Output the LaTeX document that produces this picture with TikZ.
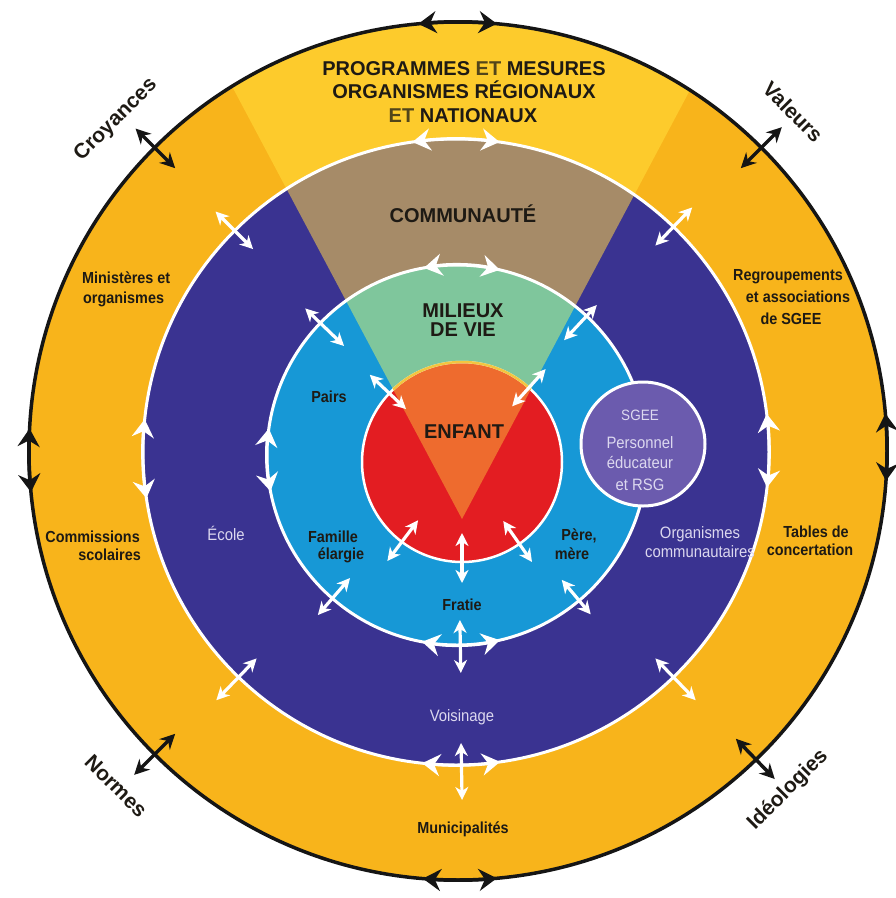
\documentclass[tikz,border=0pt]{standalone}
\usepackage{fontspec}
\setmainfont{Liberation Sans}
\newfontfamily\condf[FakeStretch=0.9]{Liberation Sans}
\usetikzlibrary{arrows.meta,calc}
\definecolor{yel}{HTML}{F8B41B}
\definecolor{lyel}{HTML}{FDCB2C}
\definecolor{purp}{HTML}{3A3391}
\definecolor{tanc}{HTML}{A68B68}
\definecolor{blu}{HTML}{1798D6}
\definecolor{grn}{HTML}{7FC69C}
\definecolor{redc}{HTML}{E31D22}
\definecolor{orng}{HTML}{EE6B2E}
\definecolor{edgey}{HTML}{F2C640}
\definecolor{sgee}{HTML}{6B5BAE}
\definecolor{txt}{HTML}{1E1A14}
\definecolor{olv}{HTML}{52451A}
\definecolor{lav}{HTML}{DCD8EF}
\definecolor{blk}{HTML}{151515}
\begin{document}
\begin{tikzpicture}[x=1pt,y=-1pt,
  wrad/.style={draw=white, line width=3.2pt, {Stealth[length=13pt,width=13pt,inset=4pt]}-{Stealth[length=13pt,width=13pt,inset=4pt]}},
  wtan/.style={draw=white, line width=3pt, {Stealth[length=18pt,width=22pt,inset=6pt]}-{Stealth[length=18pt,width=22pt,inset=6pt]}},
  brad/.style={draw=blk, line width=3.5pt, {Stealth[length=15pt,width=15pt,inset=5pt]}-{Stealth[length=15pt,width=15pt,inset=5pt]}},
  btan/.style={draw=blk, line width=3.5pt, {Stealth[length=18pt,width=22pt,inset=6pt]}-{Stealth[length=18pt,width=22pt,inset=6pt]}},
  lbl/.style={font=\condf\bfseries\fontsize{16}{18}\selectfont, text=txt, anchor=base, inner sep=0pt},
  wlbl/.style={font=\condf\fontsize{16.5}{18}\selectfont, text=lav, anchor=base, inner sep=0pt},
  big/.style={font=\bfseries\fontsize{20}{22}\selectfont, text=txt, anchor=base, inner sep=0pt},
  outerlbl/.style={font=\bfseries\fontsize{21}{23}\selectfont, text=txt, inner sep=0pt},
]
\useasboundingbox (0,0) rectangle (896,898);
\coordinate (O) at (458,451);
\coordinate (P) at (456,452);
\coordinate (B) at (457,455);
\coordinate (R) at (462,462);
\coordinate (A) at (462,519);
\coordinate (S) at (643,444);
\def\cone{(A) -- (133,-100) -- (791,-100) -- cycle}
% outer ring
\fill[yel] (O) circle[radius=429];
\begin{scope}
  \clip (O) circle[radius=429];
  \fill[lyel] \cone;
\end{scope}
\draw[blk, line width=3.5pt] (O) circle[radius=429];
% purple ring
\fill[purp] (P) circle[radius=313];
\begin{scope}
  \clip (P) circle[radius=313];
  \fill[tanc] \cone;
\end{scope}
\draw[white, line width=3pt] (P) circle[radius=313];
% blue ring
\fill[blu] (B) circle[radius=190];
\begin{scope}
  \clip (B) circle[radius=190];
  \fill[grn] \cone;
\end{scope}
\draw[white, line width=3pt] (B) circle[radius=190];
% red centre
\fill[redc] (R) circle[radius=100];
\begin{scope}
  \clip (R) circle[radius=100];
  \fill[orng] \cone;
\end{scope}
\draw[white, line width=2.5pt] (R) circle[radius=100];
\begin{scope}
  \clip \cone;
  \draw[edgey, line width=2.5pt] (R) circle[radius=100];
\end{scope}
% SGEE circle
\fill[sgee] (S) circle[radius=62];
\draw[white, line width=3pt] (S) circle[radius=62];

% black arrows on the outer circle
\draw[btan] ($(O)+(-95.3:429)$) arc[start angle=-95.3, end angle=-84.8, radius=429];
\draw[btan] ($(O)+(94.7:429)$) arc[start angle=94.7, end angle=84.8, radius=429];
\draw[btan] ($(O)+(-177:429)$) arc[start angle=-177, end angle=-185.5, radius=429];
\draw[btan] ($(O)+(-5:429)$) arc[start angle=-5, end angle=4, radius=429];
\draw[brad] ($(O)+(-135:400)$) -- ($(O)+(-135:456)$);
\draw[brad] ($(O)+(-45:400)$) -- ($(O)+(-45:458)$);
\draw[brad] ($(O)+(135:400)$) -- ($(O)+(135:458)$);
\draw[brad] ($(O)+(46:400)$) -- ($(O)+(46:456)$);

% white arrows on the purple circle
\draw[wtan] ($(P)+(-98:313)$) arc[start angle=-98, end angle=-82, radius=313];
\draw[wtan] ($(P)+(96.2:313)$) arc[start angle=96.2, end angle=81.9, radius=313];
\draw[wtan] ($(P)+(-174:313)$) arc[start angle=-174, end angle=-188.5, radius=313];
\draw[wtan] ($(P)+(-7:313)$) arc[start angle=-7, end angle=6.5, radius=313];
\draw[wrad] ($(P)+(-135:287)$) -- ($(P)+(-135:340)$);
\draw[wrad] ($(P)+(-46:287)$) -- ($(P)+(-46:340)$);
\draw[wrad] ($(P)+(134:287)$) -- ($(P)+(134:345)$);
\draw[wrad] ($(P)+(46:287)$) -- ($(P)+(46:345)$);
\draw[wrad] ($(P)+(89:291)$) -- ($(P)+(89:348)$);

% white arrows on the blue circle
\draw[wtan] ($(B)+(-100:190)$) arc[start angle=-100, end angle=-77, radius=190];
\draw[wtan] ($(B)+(100.6:190)$) arc[start angle=100.6, end angle=77, radius=190];
\draw[wtan] ($(B)+(-172:190)$) arc[start angle=-172, end angle=-191, radius=190];
\draw[wrad] ($(B)+(-136:157)$) -- ($(B)+(-136:211)$);
\draw[wrad] ($(B)+(-47:157)$) -- ($(B)+(-47:205)$);
\draw[wrad] ($(B)+(131:163)$) -- ($(B)+(131:212)$);
\draw[wrad] ($(B)+(50:163)$) -- ($(B)+(50:208)$);
\draw[wrad] ($(B)+(89:165)$) -- ($(B)+(89:218)$);

% white arrows on the red circle
\draw[wrad] ($(R)+(-136.6:77)$) -- ($(R)+(-136.6:127)$);
\draw[wrad] ($(R)+(-48:75)$) -- ($(R)+(-48:125)$);
\draw[wrad] ($(R)+(127:73)$) -- ($(R)+(127:124)$);
\draw[wrad] ($(R)+(55:72)$) -- ($(R)+(55:122)$);
\draw[wrad] ($(R)+(90:71)$) -- ($(R)+(90:121)$);

% texts
\node[big] (h1) at (464,75) {PROGRAMMES \textcolor{olv}{ET} MESURES};
\node[big] (h2) at (464,98) {ORGANISMES RÉGIONAUX};
\node[big] (h3) at (463,122) {\textcolor{olv}{ET} NATIONAUX};
\node[big] (comm) at (463,222) {COMMUNAUTÉ};
\node[big] (mil1) at (463,317) {MILIEUX};
\node[big] (mil2) at (463,336) {DE VIE};
\node[big] (enf) at (464,438) {ENFANT};
\node[lbl] (pairs) at (329,402) {Pairs};
\node[lbl] (fam1) at (333,542) {Famille};
\node[lbl] (fam2) at (341,559) {élargie};
\node[lbl] (pere1) at (579,540) {Père,};
\node[lbl] (pere2) at (572,559) {mère};
\node[lbl] (fratie) at (462,610) {Fratie};
\node[lbl] (muni) at (463,833) {Municipalités};
\node[wlbl] (vois) at (462,721) {Voisinage};
\node[wlbl] (ecole) at (226,540) {École};
\node[wlbl] (org1) at (700,538) {Organismes};
\node[wlbl] (org2) at (700,557) {communautaires};
\node[lbl, anchor=base east] (com1) at (140,542) {Commissions};
\node[lbl, anchor=base east] (com2) at (141,560) {scolaires};
\node[lbl] (tab1) at (816,537) {Tables de};
\node[lbl] (tab2) at (810,555) {concertation};
\node[lbl, anchor=base west] (min1) at (82,283) {Ministères et};
\node[lbl, anchor=base west] (min2) at (83,303) {organismes};
\node[lbl] (reg1) at (788,280) {Regroupements};
\node[lbl] (reg2) at (798,302) {et associations};
\node[lbl] (reg3) at (791,324) {de SGEE};
\node[wlbl, font=\condf\fontsize{15}{17}\selectfont] (s1) at (640,420) {SGEE};
\node[wlbl] (s2) at (640,448) {Personnel};
\node[wlbl] (s3) at (640,468) {éducateur};
\node[wlbl] (s4) at (640,490) {et RSG};
\node[outerlbl, rotate=45] (croy) at (116,120) {Croyances};
\node[outerlbl, rotate=-45] (val) at (793,112) {Valeurs};
\node[outerlbl, rotate=-45] (norm) at (116,786) {Normes};
\node[outerlbl, rotate=45] (ideo) at (788,790) {Idéologies};
\end{tikzpicture}
\end{document}
